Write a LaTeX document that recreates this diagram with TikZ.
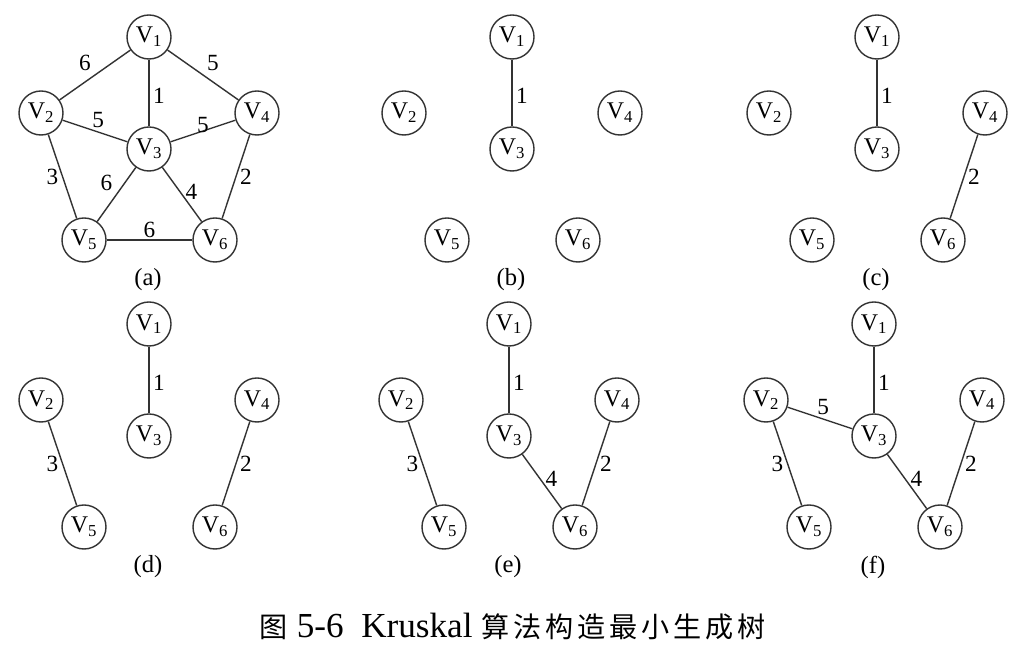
\documentclass[tikz,border=0pt]{standalone}
\usepackage{fontspec}
\setmainfont{Liberation Serif}
\newfontfamily\cjk[LetterSpace=14]{Noto Sans CJK SC}
\usetikzlibrary{calc}
\definecolor{ink}{HTML}{333333}

\begin{document}
\begin{tikzpicture}[x=0.025cm,y=-0.025cm,
    vtx/.style={circle,draw=ink,line width=1pt,minimum size=1.1cm,inner sep=0pt,font=\fontsize{17}{20}\selectfont},
    edge/.style={draw=ink,line width=1pt},
    wt/.style={font=\fontsize{16.5}{19}\selectfont,inner sep=2.5pt},
    sub/.style={font=\fontsize{17.5}{20}\selectfont}]
      \useasboundingbox[fill=white] (0,0) rectangle (1027,661);
      % six copies of the graph
      \foreach \p/\dx/\dy in {a/0/0, b/363/0, c/728/0, d/0/287, e/360/287, f/725/287}{
        \foreach \i/\x/\y in {1/149/37, 2/41/113, 3/149/149, 4/257/113, 5/84/240, 6/215/240}
          \node[vtx] (\p\i) at (\x+\dx,\y+\dy) {V\textsubscript{\i}};
        \node[sub] (lab\p) at (148+\dx,280+\dy) {(\p)};
      }
      % (a) the whole graph
      \draw[edge] (a1) -- node[wt,above left]{6} (a2);
      \draw[edge] (a1) -- node[wt,above right]{5} (a4);
      \draw[edge] (a1) -- node[wt,right,pos=.55]{1} (a3);
      \draw[edge] (a2) -- node[wt,above,pos=.55]{5} (a3);
      \draw[edge] (a3) -- node[wt,above,inner sep=0pt,yshift=-1.5pt]{5} (a4);
      \draw[edge] (a2) -- node[wt,left]{3} (a5);
      \draw[edge] (a3) -- node[wt,above left]{6} (a5);
      \draw[edge] (a3) -- node[wt,right,pos=.45,inner sep=3.5pt]{4} (a6);
      \draw[edge] (a4) -- node[wt,right]{2} (a6);
      \draw[edge] (a5) -- node[wt,above,inner sep=1pt]{6} (a6);
      % (b)
      \draw[edge] (b1) -- node[wt,right,pos=.55]{1} (b3);
      % (c)
      \draw[edge] (c1) -- node[wt,right,pos=.55]{1} (c3);
      \draw[edge] (c4) -- node[wt,right]{2} (c6);
      % (d)
      \draw[edge] (d1) -- node[wt,right,pos=.55]{1} (d3);
      \draw[edge] (d2) -- node[wt,left]{3} (d5);
      \draw[edge] (d4) -- node[wt,right]{2} (d6);
      % (e)
      \draw[edge] (e1) -- node[wt,right,pos=.55]{1} (e3);
      \draw[edge] (e2) -- node[wt,left]{3} (e5);
      \draw[edge] (e4) -- node[wt,right]{2} (e6);
      \draw[edge] (e3) -- node[wt,right,pos=.45,inner sep=3.5pt]{4} (e6);
      % (f)
      \draw[edge] (f1) -- node[wt,right,pos=.55]{1} (f3);
      \draw[edge] (f2) -- node[wt,left]{3} (f5);
      \draw[edge] (f4) -- node[wt,right]{2} (f6);
      \draw[edge] (f3) -- node[wt,right,pos=.45,inner sep=3.5pt]{4} (f6);
      \draw[edge] (f2) -- node[wt,above,pos=.55]{5} (f3);
      % caption
      \node[font=\fontsize{25}{28}\selectfont] (caption) at (513,627)
        {{\cjk\fontsize{20}{24}\selectfont 图} 5-6\hspace{0.5em}Kruskal\hspace{0.25em}{\cjk\fontsize{20}{24}\selectfont 算法构造最小生成树}};
    \end{tikzpicture}
\end{document}
